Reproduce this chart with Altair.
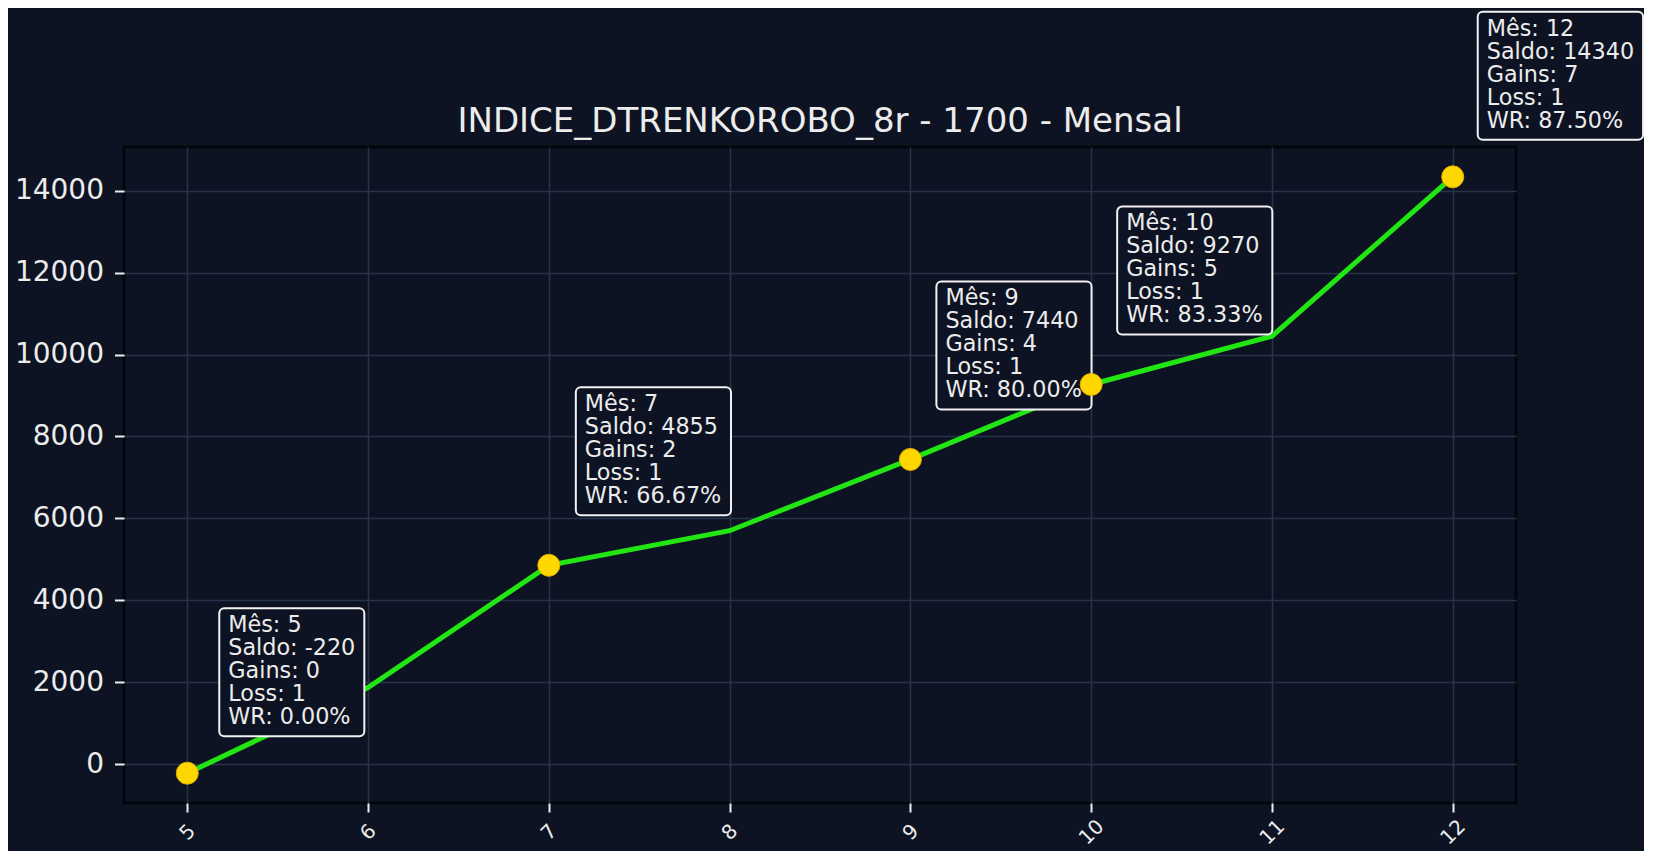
import altair as alt
import pandas as pd

# ---------------- data ----------------
months = [5, 6, 7, 8, 9, 10, 11, 12]
saldo = [-220, 1870, 4855, 5700, 7440, 9270, 10450, 14340]

ann_months = [5, 7, 9, 10, 12]
ann_saldo = [-220, 4855, 7440, 9270, 14340]
ann_gains = [0, 2, 4, 5, 7]
ann_loss = [1, 1, 1, 1, 1]
ann_wr = [0.00, 66.67, 80.00, 83.33, 87.50]

x_ticks = [5, 6, 7, 8, 9, 10, 11, 12]
y_ticks = [0, 2000, 4000, 6000, 8000, 10000, 12000, 14000]

TITLE = "INDICE_DTRENKOROBO_8r - 1700 - Mensal"

# ---------------- style ----------------
BG = "#0d1322"
GRID = "#27324b"
TXT = "#ececec"
LINE = "#22e514"
DOT = "#ffd700"
FONT = "DejaVu Sans"

W, H = 1392, 656
ANN_FS = 22.3
LINE_H = 23
BOX_H = 128
BOX_PAD = 9
# per-annotation pixel offsets of the box's lower-left corner from its point
box_dx = [32, 27, 26, 26, 25]
box_dy = [-37, -50, -50, -50, -37]

# matplotlib-like 5% margins
xspan = max(months) - min(months)
XMIN, XMAX = min(months) - 0.05 * xspan, max(months) + 0.05 * xspan
yspan = max(saldo) - min(saldo)
YMIN, YMAX = min(saldo) - 0.05 * yspan, max(saldo) + 0.05 * yspan


def px2dx(px):
    return px * (XMAX - XMIN) / W


def px2dy(py):
    return -py * (YMAX - YMIN) / H


# DejaVu Sans advance widths (em)
CW = {
    "0": .636, "1": .636, "2": .636, "3": .636, "4": .636, "5": .636,
    "6": .636, "7": .636, "8": .636, "9": .636, " ": .318, ":": .337,
    ".": .318, "%": .950, "-": .361, "M": .863, "ê": .615, "s": .521,
    "S": .635, "a": .613, "l": .278, "d": .635, "o": .612, "G": .775,
    "i": .278, "n": .634, "L": .557, "W": .989, "R": .695,
}


def text_w(s):
    return sum(CW.get(c, .6) for c in s) * ANN_FS


line_df = pd.DataFrame({"month": months, "saldo": saldo})

rows = []
for m, s, g, l, wr, dx, dy in zip(ann_months, ann_saldo, ann_gains, ann_loss,
                                  ann_wr, box_dx, box_dy):
    lines = [f"Mês: {m}", f"Saldo: {s}", f"Gains: {g}", f"Loss: {l}",
             f"WR: {wr:.2f}%"]
    bw = max(text_w(t) for t in lines) + 2 * BOX_PAD
    rows.append({
        "month": m, "saldo": s,
        "label": "\n".join(lines),
        "bx1": m + px2dx(dx), "bx2": m + px2dx(dx + bw),
        "by1": s + px2dy(dy), "by2": s + px2dy(dy - BOX_H),
        "tx": m + px2dx(dx + BOX_PAD), "ty": s + px2dy(dy - BOX_H + 24),
    })
ann_df = pd.DataFrame(rows)

xscale = alt.Scale(domain=[XMIN, XMAX], nice=False, zero=False)
yscale = alt.Scale(domain=[YMIN, YMAX], nice=False, zero=False)

xaxis = alt.Axis(values=x_ticks, format="d", title=None, labelAngle=315,
                 labelAlign="center", labelBaseline="middle", labelPadding=20,
                 labelFontSize=20, tickSize=9, grid=True)
yaxis = alt.Axis(values=y_ticks, format="d", title=None, labelFontSize=28,
                 labelPadding=11, tickSize=9.5, grid=True)


def X(f):
    return alt.X(f, scale=xscale, axis=xaxis)


def Y(f):
    return alt.Y(f, scale=yscale, axis=yaxis)


base_line = alt.Chart(line_df).mark_line(color=LINE, strokeWidth=5).encode(
    x=X("month:Q"), y=Y("saldo:Q"),
)

boxes = alt.Chart(ann_df).mark_rect(fill=BG, stroke="#f2f2f2", strokeWidth=2,
                                    cornerRadius=5).encode(
    x=X("bx1:Q"), x2="bx2:Q", y=Y("by1:Q"), y2="by2:Q",
)

texts = alt.Chart(ann_df).mark_text(
    align="left", baseline="alphabetic", lineBreak="\n", lineHeight=LINE_H,
    fontSize=ANN_FS, font=FONT, color=TXT,
).encode(x=X("tx:Q"), y=Y("ty:Q"), text="label:N")

dots = alt.Chart(ann_df).mark_point(filled=True, shape="circle", size=484,
                                    color=DOT, opacity=1, stroke="#e0ae00",
                                    strokeWidth=1).encode(
    x=X("month:Q"), y=Y("saldo:Q"),
)

title = alt.Chart(pd.DataFrame({"t": [TITLE]})).mark_text(
    fontSize=34, font=FONT, color=TXT, align="center", baseline="alphabetic",
).encode(text="t:N", x=alt.value(W / 2), y=alt.value(-15))

chart = alt.layer(base_line, boxes, texts, dots, title).properties(
    width=W, height=H,
    background=BG,
    autosize=alt.AutoSizeParams(type="none"),
    padding={"left": 116, "top": 139, "right": 128, "bottom": 48},
).configure_view(
    fill=BG, stroke="#03060c", strokeWidth=3,
).configure_axis(
    labelFont=FONT, labelColor=TXT, tickColor=TXT, tickWidth=2,
    domain=False, gridColor=GRID, gridWidth=1.5, gridOpacity=1,
)

chart.save("out.html", embed_options={"renderer": "svg", "actions": False})
